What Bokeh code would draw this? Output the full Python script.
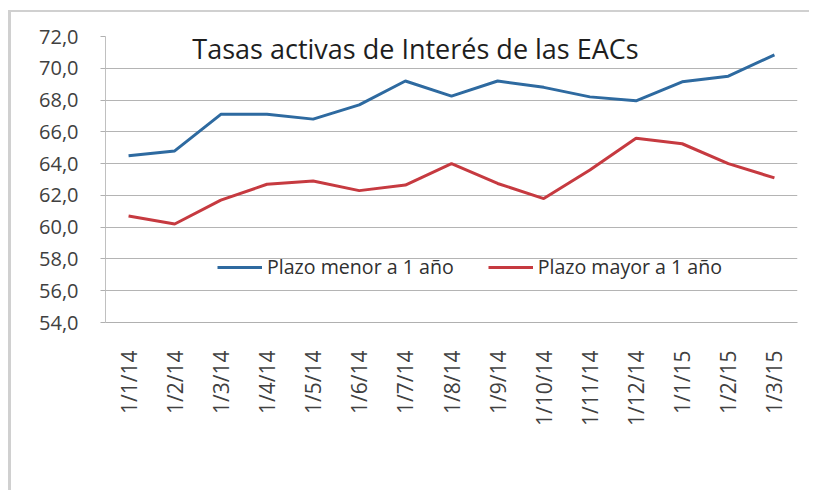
import math
from bokeh.plotting import figure
from bokeh.models import Range1d, FixedTicker, Legend, LegendItem, Label
from bokeh.embed import file_html
from bokeh.resources import INLINE

categories = ["1/1/14", "1/2/14", "1/3/14", "1/4/14", "1/5/14", "1/6/14", "1/7/14",
              "1/8/14", "1/9/14", "1/10/14", "1/11/14", "1/12/14", "1/1/15", "1/2/15", "1/3/15"]
menor = [64.5, 64.8, 67.1, 67.1, 66.8, 67.7, 69.2, 68.25, 69.2, 68.8, 68.2, 67.95, 69.15, 69.5, 70.85]
mayor = [60.7, 60.2, 61.7, 62.7, 62.9, 62.3, 62.65, 64.0, 62.75, 61.8, 63.6, 65.6, 65.25, 64.0, 63.1]
y_ticks = [54, 56, 58, 60, 62, 64, 66, 68, 70, 72]
y_tick_labels = ["54,0", "56,0", "58,0", "60,0", "62,0", "64,0", "66,0", "68,0", "70,0", "72,0"]
title_text = "Tasas activas de Interés de las EACs"
series_names = ["Plazo menor a 1 año", "Plazo mayor a 1 año"]

FONT = "Open Sans"
TXT = "#404040"

p = figure(x_range=categories, y_range=Range1d(54, 72), width=801, height=480,
           output_backend="svg", toolbar_location=None, title=None,
           min_border_left=94, min_border_right=15, min_border_top=24, min_border_bottom=170)
p.margin = (12, 0, 0, 11)
p.styles = {"box-shadow": "-3px -2px 0px 0px #d0d0d0"}
p.outline_line_color = None
p.background_fill_color = "white"
p.border_fill_color = "white"

r1 = p.line(categories, menor, line_color="#2e6aa0", line_width=3)
r2 = p.line(categories, mayor, line_color="#c63a40", line_width=3)

# y axis
p.yaxis.ticker = FixedTicker(ticks=y_ticks)
p.yaxis.major_label_overrides = {t: l for t, l in zip(y_ticks, y_tick_labels)}
p.yaxis.major_label_text_font = FONT
p.yaxis.major_label_text_font_size = "20px"
p.yaxis.major_label_text_color = TXT
p.yaxis.axis_line_color = "#c0c0c0"
p.yaxis.major_tick_line_color = "#b0b0b0"
p.yaxis.major_tick_out = 5
p.yaxis.major_tick_in = 0
p.yaxis.minor_tick_line_color = None
p.yaxis.major_label_standoff = 22

# x axis
p.xaxis.major_label_orientation = math.pi / 2
p.xaxis.major_label_text_font = FONT
p.xaxis.major_label_text_font_size = "21px"
p.xaxis.major_label_text_color = TXT
p.xaxis.axis_line_color = "#b0b0b0"
p.xaxis.major_tick_line_color = None
p.xaxis.minor_tick_line_color = None
p.xaxis.major_label_standoff = 22

p.xgrid.grid_line_color = None
p.ygrid.grid_line_color = "#b4b4b4"
p.ygrid.grid_line_width = 1

p.add_layout(Label(x=6.72, y=71.25, text=title_text, text_font=FONT, text_font_size="27px",
                   text_color="#1e1e1e", text_align="center", text_baseline="middle"))

legend = Legend(items=[LegendItem(label=series_names[0], renderers=[r1]),
                       LegendItem(label=series_names[1], renderers=[r2])],
                location=(112, 42), orientation="horizontal",
                label_text_font=FONT, label_text_font_size="19.6px", label_text_color="#303030",
                glyph_width=45, glyph_height=20, label_standoff=5, spacing=34,
                padding=0, margin=0, background_fill_alpha=0, border_line_alpha=0)
p.add_layout(legend)

open("out.html", "w").write(file_html(p, INLINE))
